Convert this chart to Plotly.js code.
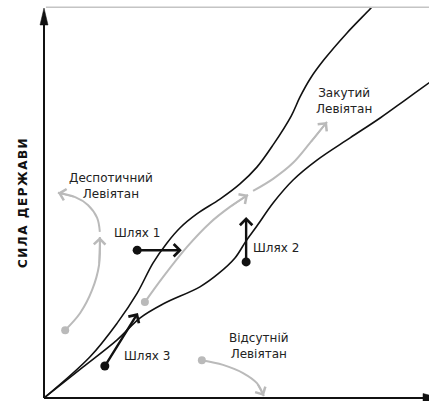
<!DOCTYPE html>
<html><head><meta charset="utf-8">
<script src="https://cdn.plot.ly/plotly-3.0.1.min.js"></script>
<style>html,body{margin:0;padding:0;background:#fff}#chart{width:429px;height:401px}
.annotation[data-index="14"] .annotation-text{letter-spacing:1.5px}</style>
</head><body><div id="chart"></div>
<script>
// Corridor boundaries (x: society power, y: state power, 0-100)
const upperX = [0, 11.9, 19.0, 24.2, 28.3, 31.9, 35.3, 39.7, 45.7, 50.9, 55.3, 59.5, 64.2, 66.5, 69.1, 72.7, 78.7, 85.2, 86.2];
const upperY = [0, 10.5, 19.2, 26.9, 34.6, 39.7, 43.6, 47.2, 51.0, 54.9, 59.2, 64.9, 72.3, 77.2, 81.8, 86.7, 93.6, 100.3, 101.5];
const lowerX = [0, 10.1, 19.0, 24.9, 30.9, 40.5, 45.2, 49.6, 52.5, 55.3, 59.5, 64.7, 70.9, 79.5, 87.3, 93.8, 100, 101];
const lowerY = [0, 7.9, 14.9, 20.5, 24.1, 28.5, 31.8, 35.9, 40.3, 44.1, 50.0, 55.9, 61.0, 66.7, 71.8, 76.4, 80.8, 81.5];

// Grey trajectories
const despoticAX = [5.5, 9.4, 12.5, 14.3, 14.5];
const despoticAY = [17.4, 21.8, 27.7, 34.1, 41.3];
const despoticBX = [14.5, 13.8, 11.4, 8.1, 3.6];
const despoticBY = [42.6, 46.2, 49.5, 51.5, 52.6];
const shackledAX = [26.2, 30.9, 37.1, 43.1, 48.3, 53.0];
const shackledAY = [24.6, 31.0, 38.7, 44.9, 49.0, 52.1];
const shackledBX = [54.3, 59.5, 64.7, 69.1, 73.5];
const shackledBY = [53.1, 56.2, 60.3, 65.4, 70.8];
const absentX = [41.0, 46.5, 51.7, 55.3, 57.1];
const absentY = [9.7, 8.5, 6.4, 3.8, 0.5];

// Black paths: [start, end]
const path1X = [24.2, 35.8], path1Y = [37.9, 37.9];
const path2X = [52.5, 52.5], path2Y = [34.9, 46.4];
const path3X = [15.8, 24.4], path3Y = [8.2, 21.8];

// Labels
const labelText = ['Деспотичний<br>Левіятан', 'Закутий<br>Левіятан', 'Відсутній<br>Левіятан', 'Шлях 1', 'Шлях 2', 'Шлях 3'];
const labelX = [17.4, 77.9, 55.8, 24.2, 53.8, 20.3];
const labelY = [54.4, 76.2, 13.3, 42.3, 38.5, 10.8];
const labelAnchor = ['center', 'center', 'center', 'center', 'left', 'left'];
const yTitle = 'СИЛА ДЕРЖАВИ';

const GREY = '#bababa';
const FONT = 'DejaVu Sans, sans-serif';

function line(x, y, color, width) {
  return {x: x, y: y, type: 'scatter', mode: 'lines', hoverinfo: 'skip',
    line: {color: color, width: width, shape: 'spline', smoothing: 1}};
}
const traces = [
  line(upperX, upperY, '#111', 1.6),
  line(lowerX, lowerY, '#111', 1.6),
  line(despoticAX, despoticAY, GREY, 2),
  line(despoticBX, despoticBY, GREY, 2),
  line(shackledAX, shackledAY, GREY, 2),
  line(shackledBX, shackledBY, GREY, 2),
  line(absentX, absentY, GREY, 2),
  {x: [despoticAX[0], shackledAX[0], absentX[0]], y: [despoticAY[0], shackledAY[0], absentY[0]],
   type: 'scatter', mode: 'markers', hoverinfo: 'skip', marker: {color: GREY, size: 8}},
  {x: [path1X[0], path2X[0], path3X[0]], y: [path1Y[0], path2Y[0], path3Y[0]],
   type: 'scatter', mode: 'markers', hoverinfo: 'skip', marker: {color: '#111', size: 9}}
];

function head(xs, ys, color, width, size) {
  const n = xs.length;
  return {x: xs[n - 1], y: ys[n - 1], ax: xs[n - 2], ay: ys[n - 2], xref: 'x', yref: 'y', axref: 'x', ayref: 'y',
    text: '', showarrow: true, arrowhead: 4, arrowsize: size, arrowwidth: width, arrowcolor: color, standoff: 0, startstandoff: 0};
}
const annotations = [
  head(despoticAX, despoticAY, GREY, 1.6, 1.4),
  head(despoticBX, despoticBY, GREY, 1.6, 1.4),
  head(shackledAX, shackledAY, GREY, 1.6, 1.4),
  head(shackledBX, shackledBY, GREY, 1.6, 1.4),
  head(absentX, absentY, GREY, 1.6, 1.4),
  head(path1X, path1Y, '#111', 2.4, 1.0),
  head(path2X, path2Y, '#111', 2.4, 1.0),
  head(path3X, path3Y, '#111', 2.4, 1.0)
];
labelText.forEach(function (t, i) {
  annotations.push({x: labelX[i], y: labelY[i], xref: 'x', yref: 'y', text: t, showarrow: false,
    xanchor: labelAnchor[i], yanchor: 'middle', align: 'center', font: {family: FONT, size: 12, color: '#222'}});
});
annotations.push({x: 0, y: 0.5, xref: 'paper', yref: 'paper', xanchor: 'center', yanchor: 'middle', xshift: -21,
  text: yTitle, textangle: -90, showarrow: false, font: {family: FONT, size: 12, color: '#111', weight: 'bold'}});

const shapes = [
  {type: 'line', xref: 'paper', yref: 'paper', x0: 0.005, x1: 1, y0: 1.002, y1: 1.002, line: {color: '#c4c4c4', width: 1.5}},
  {type: 'line', xref: 'paper', yref: 'paper', x0: 0, x1: 0, y0: 0, y1: 0.96, line: {color: '#111', width: 2}},
  {type: 'line', xref: 'paper', yref: 'paper', x0: 0, x1: 1, y0: 0, y1: 0, line: {color: '#111', width: 2}},
  {type: 'path', xref: 'paper', yref: 'paper', xsizemode: 'pixel', ysizemode: 'pixel', xanchor: 0, yanchor: 1,
   path: 'M-4,-17 L0,0 L4,-17 Z', fillcolor: '#111', line: {color: '#111', width: 0.5}},
  {type: 'path', xref: 'paper', yref: 'paper', xsizemode: 'pixel', ysizemode: 'pixel', xanchor: 1, yanchor: 0,
   path: 'M-6,-4.5 L11,0 L-6,4.5 Z', fillcolor: '#111', line: {color: '#111', width: 0.5}}
];

const layout = {
  width: 429, height: 401, margin: {l: 44, r: 0, t: 8, b: 3},
  paper_bgcolor: '#fff', plot_bgcolor: '#fff', showlegend: false,
  xaxis: {range: [0, 100], visible: false, fixedrange: true},
  yaxis: {range: [0, 100], visible: false, fixedrange: true},
  annotations: annotations, shapes: shapes
};
Plotly.newPlot('chart', traces, layout, {staticPlot: true, displayModeBar: false});
</script></body></html>
